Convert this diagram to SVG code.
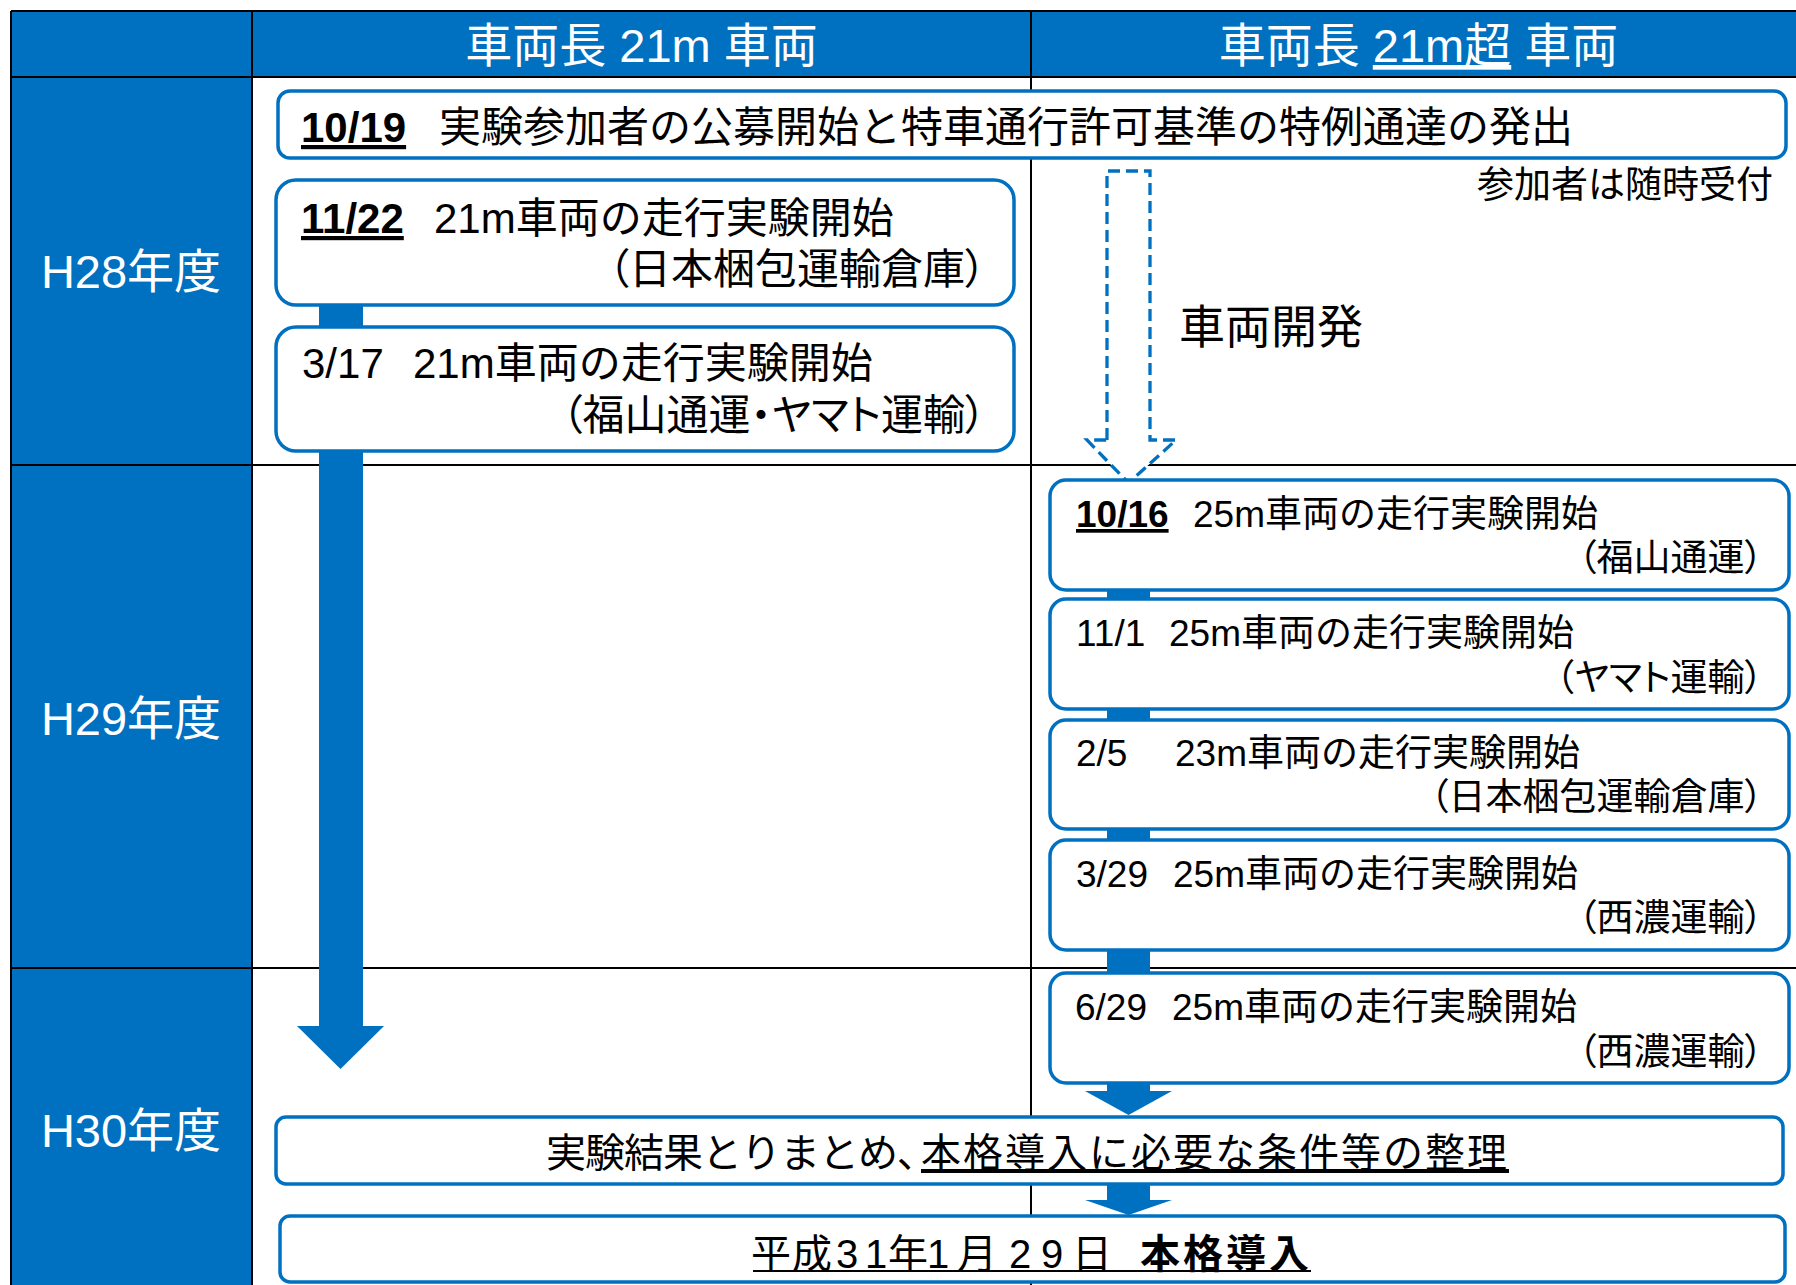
<svg xmlns="http://www.w3.org/2000/svg" width="1796" height="1285" viewBox="0 0 1796 1285">
<style>
.cell{fill:#0070C0}
.grid{stroke:#000;stroke-width:2}
.box{fill:#fff;stroke:#0070C0;stroke-width:3.5}
.t{font-family:"Liberation Sans","Noto Sans CJK JP",sans-serif;fill:#000}
.w{fill:#fff}
.b{font-weight:bold}
.palt{font-feature-settings:"palt"}
.flow{fill:#0070C0}
.dash{fill:#fff;stroke:#0070C0;stroke-width:3.3;stroke-dasharray:12 6}
.ul{stroke:#000;stroke-width:2.2}
</style>
<rect width="1796" height="1285" fill="#fff"/>
<g id="table">
  <rect class="cell" x="11" y="11" width="1785" height="66"/>
  <rect class="cell" x="11" y="77" width="241" height="1208"/>
  <line class="grid" x1="11" y1="11" x2="1796" y2="11"/>
  <line class="grid" x1="11" y1="77" x2="1796" y2="77"/>
  <line class="grid" x1="11" y1="465" x2="1796" y2="465"/>
  <line class="grid" x1="11" y1="968" x2="1796" y2="968"/>
  <line class="grid" x1="11" y1="11" x2="11" y2="1285"/>
  <line class="grid" x1="252" y1="11" x2="252" y2="1285"/>
  <line class="grid" x1="1031" y1="11" x2="1031" y2="1285"/>
</g>
<g id="headers" class="t w" font-size="47">
  <text id="h-left" x="641.5" y="62" text-anchor="middle">車両長 21m 車両</text>
  <text id="h-right" x="1418.5" y="62" text-anchor="middle">車両長 <tspan text-decoration="underline">21m超</tspan> 車両</text>
  <text id="y-h28" x="131" y="288" text-anchor="middle">H28年度</text>
  <text id="y-h29" x="131" y="735" text-anchor="middle">H29年度</text>
  <text id="y-h30" x="131" y="1147" text-anchor="middle">H30年度</text>
</g>
<g id="connectors">
  <rect class="flow" x="319" y="305" width="44" height="721"/>
  <polygon class="flow" points="297,1026 384,1026 340.5,1069"/>
  <rect class="flow" x="1107" y="588" width="43" height="503"/>
  <polygon class="flow" points="1085,1091 1172,1091 1128.5,1115"/>
  <rect class="flow" x="1107" y="1182" width="43" height="18"/>
  <polygon class="flow" points="1085,1200 1172,1200 1128.5,1215"/>
  <path class="dash" d="M1107,440 L1107,171 L1150,171 L1150,440 L1176,440 L1128.5,483 L1087,440 Z"/>
</g>
<g id="labels" class="t">
  <text id="note" x="1773" y="198" text-anchor="end" font-size="37">参加者は随時受付</text>
  <text id="dev" x="1179" y="343" font-size="46">車両開発</text>
</g>
<g id="n1" class="t" font-size="42">
  <rect class="box" x="278" y="91" width="1508" height="67" rx="12"/>
  <text y="142"><tspan x="301" class="b" text-decoration="underline">10/19</tspan><tspan x="439">実験参加者の公募開始と特車通行許可基準の特例通達の発出</tspan></text>
</g>
<g id="n2" class="t" font-size="42">
  <rect class="box" x="276" y="180" width="738" height="125" rx="20"/>
  <text y="233"><tspan x="301" class="b" text-decoration="underline">11/22</tspan><tspan x="434">21m車両の走行実験開始</tspan></text>
  <text class="palt" x="986" y="284" text-anchor="end">（日本梱包運輸倉庫）</text>
</g>
<g id="n3" class="t" font-size="42">
  <rect class="box" x="276" y="327" width="738" height="124" rx="20"/>
  <text y="378"><tspan x="302">3/17</tspan><tspan x="413">21m車両の走行実験開始</tspan></text>
  <text class="palt" x="986" y="430" text-anchor="end">（福山通運・ヤマト運輸）</text>
</g>
<g id="n4" class="t" font-size="37">
  <rect class="box" x="1050" y="480" width="739" height="110" rx="16"/>
  <text y="527"><tspan x="1076" class="b" text-decoration="underline">10/16</tspan><tspan x="1193">25m車両の走行実験開始</tspan></text>
  <text class="palt" x="1763" y="571" text-anchor="end">（福山通運）</text>
</g>
<g id="n5" class="t" font-size="37">
  <rect class="box" x="1050" y="599" width="739" height="110" rx="16"/>
  <text y="646"><tspan x="1076">11/1</tspan><tspan x="1169">25m車両の走行実験開始</tspan></text>
  <text class="palt" x="1763" y="691" text-anchor="end">（ヤマト運輸）</text>
</g>
<g id="n6" class="t" font-size="37">
  <rect class="box" x="1050" y="720" width="739" height="109" rx="16"/>
  <text y="766"><tspan x="1076">2/5</tspan><tspan x="1175">23m車両の走行実験開始</tspan></text>
  <text class="palt" x="1763" y="810" text-anchor="end">（日本梱包運輸倉庫）</text>
</g>
<g id="n7" class="t" font-size="37">
  <rect class="box" x="1050" y="840" width="739" height="110" rx="16"/>
  <text y="887"><tspan x="1076">3/29</tspan><tspan x="1173">25m車両の走行実験開始</tspan></text>
  <text class="palt" x="1763" y="931" text-anchor="end">（西濃運輸）</text>
</g>
<g id="n8" class="t" font-size="37">
  <rect class="box" x="1050" y="973" width="739" height="110" rx="16"/>
  <text y="1020"><tspan x="1075">6/29</tspan><tspan x="1172">25m車両の走行実験開始</tspan></text>
  <text class="palt" x="1763" y="1065" text-anchor="end">（西濃運輸）</text>
</g>
<g id="n9" class="t" font-size="40">
  <rect class="box" x="276" y="1117" width="1507" height="67" rx="10"/>
  <text y="1167"><tspan x="546" letter-spacing="-1">実験結果とりまとめ</tspan><tspan class="palt">、</tspan><tspan x="921" letter-spacing="2" text-decoration="underline">本格導入に必要な条件等の整理</tspan></text>
</g>
<g id="n10" class="t" font-size="40">
  <rect class="box" x="280" y="1216" width="1505" height="66" rx="10"/>
  <text y="1268"><tspan x="751 792 836 865 888 927 957 1009 1041 1072">平成31年1月29日</tspan><tspan x="1140" class="b" letter-spacing="3">本格導入</tspan></text>
  <line class="ul" x1="753" y1="1271" x2="1311" y2="1271"/>
</g>
</svg>
